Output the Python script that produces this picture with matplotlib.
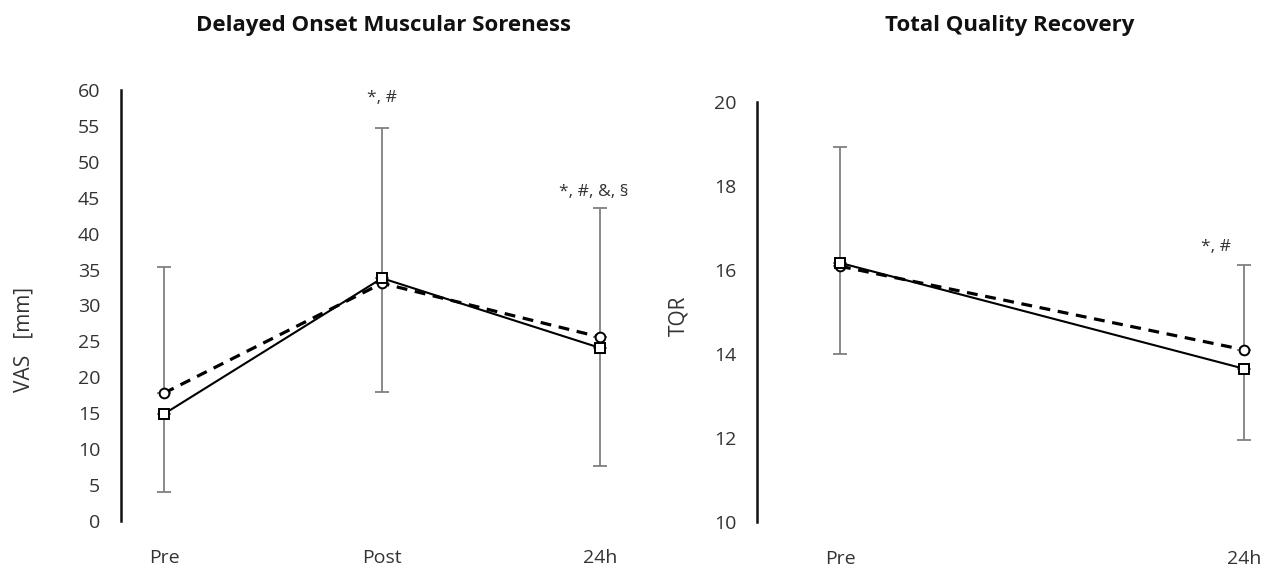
import matplotlib
matplotlib.use("Agg")
import matplotlib.pyplot as plt
import numpy as np

plt.rcParams["font.family"] = ["Open Sans", "DejaVu Sans"]

# DOMS (VAS, mm)
doms_times = ["Pre", "Post", "24h"]
doms_square = [14.9, 33.8, 24.1]      # solid line, square markers
doms_circle = [17.8, 33.1, 25.6]      # dashed line, circle markers
doms_sd_up = [17.5, 21.6, 18.0]       # upper error (drawn from circle series)
doms_sd_low = [10.8, 15.8, 16.4]      # lower error (drawn from square series)
doms_notes = ["", "*, #", "*, #, &, §"]
doms_note_y = [0, 58.9, 45.8]

# TQR
tqr_times = ["Pre", "24h"]
tqr_square = [16.17, 13.65]
tqr_circle = [16.09, 14.10]
tqr_sd_up = [2.84, 2.01]
tqr_sd_low = [2.17, 1.69]
tqr_notes = ["", "*, #"]
tqr_note_y = [0, 16.55]

W, H = 1271, 568
fig = plt.figure(figsize=(W / 100, H / 100), dpi=100)

err_color = "#808080"
txt_color = "#333333"


def panel(ax, times, sq, ci, up, low, notes, note_y, note_dx):
    x = np.arange(len(times))
    ax.errorbar(x, ci, yerr=[np.zeros(len(x)), up], fmt="none",
                ecolor=err_color, elinewidth=1.3, capsize=5, capthick=1.3, zorder=1)
    ax.errorbar(x, sq, yerr=[low, np.zeros(len(x))], fmt="none",
                ecolor=err_color, elinewidth=1.3, capsize=5, capthick=1.3, zorder=1)
    ax.plot(x, ci, color="black", lw=2.3, ls=(0, (3.4, 2.4)), marker="o",
            ms=7, mfc="white", mec="black", mew=1.4, zorder=3)
    ax.plot(x, sq, color="black", lw=1.5, marker="s",
            ms=7.8, mfc="white", mec="black", mew=1.4, zorder=4)
    for i, t in enumerate(notes):
        if t:
            ax.text(x[i] + note_dx[i], note_y[i], t, ha="center", va="center",
                    fontsize=12.5, color=txt_color)
    ax.set_xticks(x)
    ax.set_xticklabels(times)
    for s in ["top", "right", "bottom"]:
        ax.spines[s].set_visible(False)
    ax.spines["left"].set_linewidth(1.8)
    ax.spines["left"].set_color("#111111")
    ax.tick_params(axis="both", length=0, labelsize=14, colors=txt_color)
    ax.tick_params(axis="x", pad=20)
    ax.tick_params(axis="y", pad=15)


ax1 = fig.add_axes([121 / W, 1 - 521 / H, 522 / W, 431 / H])
panel(ax1, doms_times, doms_square, doms_circle, doms_sd_up, doms_sd_low,
      doms_notes, doms_note_y, [0, 0.0, -0.03])
ax1.set_xlim(-0.197, 2.197)
ax1.set_ylim(0, 60)
ax1.set_yticks(np.arange(0, 61, 5))
ax1.set_ylabel("VAS   [mm]", fontsize=15, color=txt_color)
ax1.yaxis.set_label_coords(-0.165, 0.42)

ax2 = fig.add_axes([757 / W, 1 - 522 / H, (W - 757) / W, 420 / H])
panel(ax2, tqr_times, tqr_square, tqr_circle, tqr_sd_up, tqr_sd_low,
      tqr_notes, tqr_note_y, [0, -0.07])
ax2.set_xlim(-0.2054, 1.0668)
ax2.set_ylim(10, 20)
ax2.set_yticks(np.arange(10, 21, 2))
ax2.set_ylabel("TQR", fontsize=15, color=txt_color)
ax2.yaxis.set_label_coords(-0.131, 0.49)

fig.text(383 / W, 1 - 26 / H, "Delayed Onset Muscular Soreness",
         ha="center", va="center", fontsize=16, fontweight="bold", color="#111111")
fig.text(1010 / W, 1 - 26 / H, "Total Quality Recovery",
         ha="center", va="center", fontsize=16, fontweight="bold", color="#111111")

fig.savefig("out.png", dpi=100)
